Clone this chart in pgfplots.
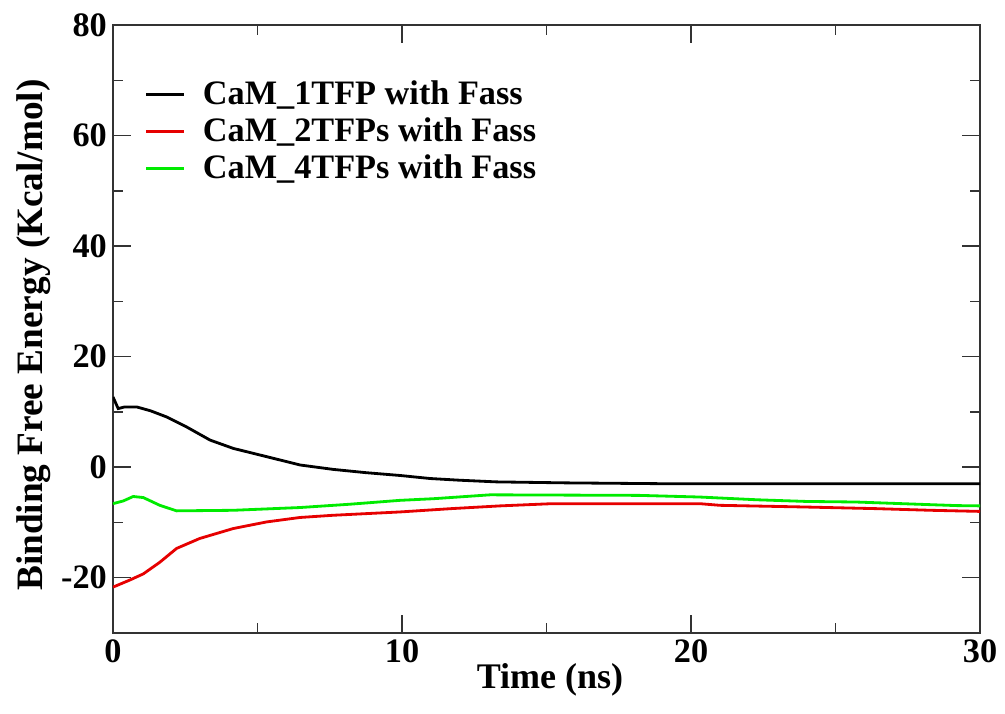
\documentclass[border=0pt]{standalone}
\usepackage{fontspec}
\setmainfont{Liberation Serif}
\usepackage{pgfplots}
\pgfplotsset{compat=1.18}
\definecolor{gracered}{RGB}{230,0,0}
\definecolor{gracegreen}{RGB}{0,235,0}

\begin{document}
\begin{tikzpicture}
  \path[use as bounding box] (-2.26,-1.6) rectangle (17.84,12.66);

  \begin{axis}[
      at={(0,0)}, anchor=south west,
      scale only axis,
      width=17.34cm, height=12.16cm,
      xmin=0, xmax=30,
      ymin=-30, ymax=80,
      xtick={0,10,20,30},
      ytick={-20,0,20,40,60,80},
      minor x tick num=1,
      minor y tick num=1,
      tick align=inside,
      major tick length=0.36cm,
      minor tick length=0.2cm,
      tick style={line width=0.8pt, color=black!80},
      axis line style={line width=1.1pt, color=black!80},
      /pgf/number format/assume math mode=true,
      tick label style={font=\fontsize{19.5}{22}\selectfont\bfseries},
      label style={font=\fontsize{20.5}{24}\selectfont\bfseries},
      xlabel={Time (ns)},
      ylabel={Binding Free Energy (Kcal/mol)},
      xlabel style={at={(axis description cs:0.504,-0.077)}, anchor=center},
      ylabel style={at={(axis description cs:-0.092,0.49)}, anchor=center,
                    font=\fontsize{21.2}{24}\selectfont\bfseries},
      legend style={
        at={(axis description cs:0.03,0.92)}, anchor=north west,
        draw=none, fill=none,
        font=\fontsize{19.5}{22}\selectfont\bfseries,
        row sep=2pt,
        cells={anchor=west},
        /tikz/every odd column/.append style={column sep=0.28cm},
      },
      legend image code/.code={
        \draw[#1] (0cm,0cm) -- (0.76cm,0cm);
      },
  ]

    % CaM_1TFP with Fass
    \addplot[black, line width=1.6pt] coordinates {
      (0,12.7) (0.18,10.6) (0.4,10.9) (0.82,10.9) (1.3,10.2) (1.85,9.1)
      (2.54,7.3) (3.36,4.9) (4.16,3.4) (5.32,1.9) (6.47,0.4) (7.62,-0.4)
      (8.77,-1.0) (9.93,-1.5) (10.97,-2.05) (12.0,-2.36) (13.27,-2.66)
      (15.7,-2.84) (19.27,-3.0) (30,-3.0)
    };
    \addlegendentry{CaM\_1TFP with Fass}

    % CaM_2TFPs with Fass
    \addplot[gracered, line width=1.6pt] coordinates {
      (0,-21.7) (0.59,-20.4) (1.05,-19.3) (1.62,-17.2) (2.2,-14.7) (3.0,-12.9)
      (4.16,-11.1) (5.32,-9.9) (6.47,-9.1) (7.62,-8.7) (8.77,-8.4) (9.93,-8.1)
      (11.7,-7.5) (13.4,-7.0) (15.2,-6.6) (20.3,-6.6) (21,-6.9) (23.9,-7.2)
      (26.4,-7.5) (28.3,-7.8) (30,-8.0)
    };
    \addlegendentry{CaM\_2TFPs with Fass}

    % CaM_4TFPs with Fass
    \addplot[gracegreen, line width=1.6pt] coordinates {
      (0,-6.6) (0.36,-6.1) (0.7,-5.3) (1.05,-5.5) (1.62,-6.9) (2.2,-7.9)
      (4.16,-7.8) (6.47,-7.3) (8.2,-6.7) (9.93,-6.0) (11.1,-5.7) (13.05,-5.0)
      (18.2,-5.1) (20.3,-5.4) (22.3,-5.9) (24.0,-6.2) (25.7,-6.3) (27.3,-6.6)
      (29.2,-6.95) (30,-7.0)
    };
    \addlegendentry{CaM\_4TFPs with Fass}

  \end{axis}
\end{tikzpicture}
\end{document}
